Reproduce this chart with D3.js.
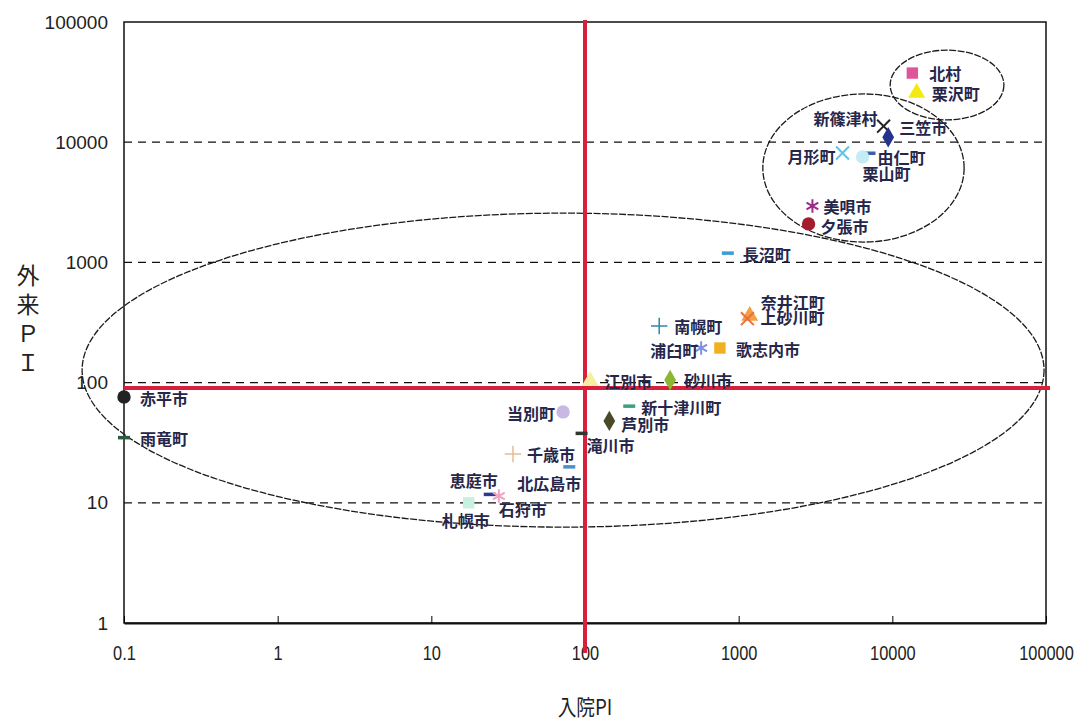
<!DOCTYPE html>
<html>
<head>
<meta charset="utf-8">
<script src="https://cdn.jsdelivr.net/npm/d3@7"></script>
<style>
  body { margin: 0; background: #fff; }
  svg { display: block; }
</style>
</head>
<body>
<div id="chart"></div>
<script>
// municipalities: name, 入院PI (x), 外来PI (y)
const names = ["北村", "栗沢町", "新篠津村", "三笠市", "月形町", "由仁町", "栗山町", "美唄市", "夕張市",
  "長沼町", "奈井江町", "上砂川町", "南幌町", "浦臼町", "歌志内市", "砂川市", "江別市",
  "赤平市", "雨竜町", "当別町", "新十津川町", "芦別市", "滝川市", "千歳市", "北広島市", "恵庭市", "石狩市", "札幌市"];
const inpatientPI = [13500, 14400, 8770, 9400, 4740, 7100, 6400, 3020, 2850,
  850, 1180, 1140, 304, 570, 755, 358, 108,
  0.1, 0.1, 72, 194, 144, 95, 34, 79, 24, 27.5, 17.5];
const outpatientPI = [37600, 25700, 13600, 11000, 8130, 8130, 7530, 2950, 2090,
  1200, 360, 340, 296, 194, 194, 105, 103,
  76, 35, 57, 64, 48, 38, 25.5, 20, 11.8, 11.4, 10];

const shapes = ["square", "triangle", "times", "diamond", "times", "dash", "circle", "asterisk", "circle",
  "dash", "triangle", "times", "plus", "asterisk", "square", "diamond", "triangle",
  "circle", "dash", "circle", "dash", "diamond", "dash", "plus", "dash", "dash", "asterisk", "square"];
const colors = ["#e0559a", "#f2ea10", "#222222", "#24348c", "#5cc4ea", "#3d5fb0", "#c4ecf4", "#9b2a8a", "#a51d2c",
  "#3b9bd5", "#f2a040", "#e8703a", "#2a8aa8", "#8090dc", "#f0b020", "#8ab830", "#f6eea0",
  "#222222", "#2a5a40", "#c8b8e2", "#3aa080", "#4a4a2a", "#333333", "#e4bc94", "#4a90d0", "#2a3a90", "#f2a0c4", "#c8f0e0"];

// label placement relative to marker: dx, dy, anchor
const labelPos = [[17, 0, "start"], [15, 0, "start"], [-6, -8, "end"], [11, -10, "start"], [-7, 3, "end"],
  [8, 4, "start"], [0, 16, "start"], [11, 0, "start"], [12, 2, "start"],
  [15, 1, "start"], [11, -14, "start"], [13, -2, "start"], [15, 0, "start"], [-3, 2, "end"], [16, 1, "start"],
  [14, 0, "start"], [14, 0, "start"],
  [16, 1, "start"], [16, 1, "start"], [-8, 1, "end"], [12, 1, "start"], [12, 3, "start"], [5, 12, "start"],
  [14, 0, "start"], [12, 16, "end"], [8, -14, "end"], [0, 13, "start"], [-27, 17, "start"]];

// tick values and reference lines
const xTicks = [0.1, 1, 10, 100, 1000, 10000, 100000];
const yTicks = [1, 10, 100, 1000, 10000, 100000];
const gridValues = [10, 100, 1000, 10000];
const refX = 100;
const refY = 90;

// grouping ellipses: centre (data), radius in decades
const ellipseCx = [72, 6490, 22700];
const ellipseCy = [127, 6100, 29900];
const ellipseRx = [3.13, 0.655, 0.37];
const ellipseRy = [1.306, 0.616, 0.29];

const width = 1087, height = 720;
const margin = {top: 22, right: 41, bottom: 97, left: 124};

const x = d3.scaleLog().domain([0.1, 100000]).range([margin.left, width - margin.right]);
const y = d3.scaleLog().domain([1, 100000]).range([height - margin.bottom, margin.top]);
const decX = (x(10) - x(1));
const decY = (y(1) - y(10));

const svg = d3.select("#chart").append("svg")
  .attr("width", width)
  .attr("height", height);

// dashed gridlines
svg.append("g").selectAll("line").data(gridValues).join("line")
  .attr("x1", x.range()[0]).attr("x2", x.range()[1])
  .attr("y1", d => y(d)).attr("y2", d => y(d))
  .attr("stroke", "#111").attr("stroke-width", 1.3)
  .attr("stroke-dasharray", "8,6");

// frame
svg.append("rect")
  .attr("x", x.range()[0]).attr("y", y.range()[1])
  .attr("width", x.range()[1] - x.range()[0])
  .attr("height", y.range()[0] - y.range()[1])
  .attr("fill", "none").attr("stroke", "#111").attr("stroke-width", 1.5);

// x axis
const xAxis = svg.append("g")
  .attr("transform", `translate(0, ${y.range()[0]})`)
  .call(d3.axisBottom(x).tickValues(xTicks).tickSizeInner(-7).tickSizeOuter(0).tickPadding(22)
    .tickFormat(d => d < 1 ? "0.1" : d3.format("d")(d)));
xAxis.select(".domain").attr("stroke", "#111").attr("stroke-width", 2);
xAxis.selectAll("text")
  .attr("font-family", "'Liberation Sans', Arial, sans-serif")
  .attr("font-size", 21).attr("fill", "#222")
  .attr("transform", "scale(0.78,1)");

// y axis
const yAxis = svg.append("g")
  .attr("transform", `translate(${x.range()[0]}, 0)`)
  .call(d3.axisLeft(y).tickValues(yTicks).tickSize(0).tickPadding(16).tickFormat(d3.format("d")));
yAxis.select(".domain").remove();
yAxis.selectAll("text")
  .attr("font-family", "'Liberation Sans', Arial, sans-serif")
  .attr("font-size", 19).attr("fill", "#222");

// ellipses
svg.append("g").selectAll("ellipse").data(ellipseCx).join("ellipse")
  .attr("cx", (d, i) => x(d))
  .attr("cy", (d, i) => y(ellipseCy[i]))
  .attr("rx", (d, i) => ellipseRx[i] * decX)
  .attr("ry", (d, i) => ellipseRy[i] * decY)
  .attr("fill", "none").attr("stroke", "#1a1a1a").attr("stroke-width", 1.3)
  .attr("stroke-dasharray", "7,1.5");

// red reference lines
svg.append("line")
  .attr("x1", x(refX)).attr("x2", x(refX))
  .attr("y1", y.range()[1] - 2).attr("y2", y.range()[0] + 30)
  .attr("stroke", "#d81f3c").attr("stroke-width", 4);
svg.append("line")
  .attr("x1", x.range()[0]).attr("x2", x.range()[1] + 4)
  .attr("y1", y(refY)).attr("y2", y(refY))
  .attr("stroke", "#d81f3c").attr("stroke-width", 4);

// markers
const symbolType = {
  square: d3.symbolSquare, triangle: d3.symbolTriangle, diamond: d3.symbolDiamond,
  circle: d3.symbolCircle, times: d3.symbolTimes, plus: d3.symbolPlus, asterisk: d3.symbolAsterisk
};
const symbolSize = {square: 130, triangle: 125, diamond: 120, circle: 140, times: 110, plus: 90, asterisk: 130};
const strokeW = {times: 2, plus: 1.5, asterisk: 2};

const idx = d3.range(names.length);
const marks = svg.append("g").selectAll("g.pt").data(idx).join("g")
  .attr("class", "pt")
  .attr("transform", i => `translate(${x(inpatientPI[i])}, ${y(outpatientPI[i])})`);

marks.each(function(i) {
  const g = d3.select(this);
  const s = shapes[i];
  if (s === "dash") {
    g.append("rect").attr("x", -6).attr("y", -1.5).attr("width", 12).attr("height", 3.5)
      .attr("fill", colors[i]);
  } else if (strokeW[s]) {
    g.append("path").attr("d", d3.symbol(symbolType[s], symbolSize[s])())
      .attr("fill", "none").attr("stroke", colors[i]).attr("stroke-width", strokeW[s]);
  } else {
    g.append("path").attr("d", d3.symbol(symbolType[s], symbolSize[s])())
      .attr("fill", colors[i]);
  }
});

// labels
svg.append("g").selectAll("text").data(idx).join("text")
  .attr("x", i => x(inpatientPI[i]) + labelPos[i][0])
  .attr("y", i => y(outpatientPI[i]) + labelPos[i][1])
  .attr("text-anchor", i => labelPos[i][2])
  .attr("dominant-baseline", "central")
  .attr("font-family", "'Noto Sans CJK JP', sans-serif")
  .attr("font-weight", 700)
  .attr("font-size", 16)
  .attr("fill", "#26264a")
  .text(i => names[i]);

// axis titles
const yTitle = ["外", "来", "Ｐ", "Ｉ"];
svg.append("g").selectAll("text").data(yTitle).join("text")
  .attr("x", 28)
  .attr("y", (d, i) => 274 + i * 29)
  .attr("text-anchor", "middle")
  .attr("dominant-baseline", "central")
  .attr("font-family", "'Noto Sans CJK JP', sans-serif")
  .attr("font-size", 23).attr("fill", "#222")
  .text(d => d);

svg.append("text")
  .attr("transform", `translate(${x(refX)}, 705) scale(0.85,1)`)
  .attr("text-anchor", "middle")
  .attr("dominant-baseline", "central")
  .attr("font-family", "'Noto Sans CJK JP', sans-serif")
  .attr("font-size", 22).attr("fill", "#222")
  .text("入院PI");
</script>
</body>
</html>
